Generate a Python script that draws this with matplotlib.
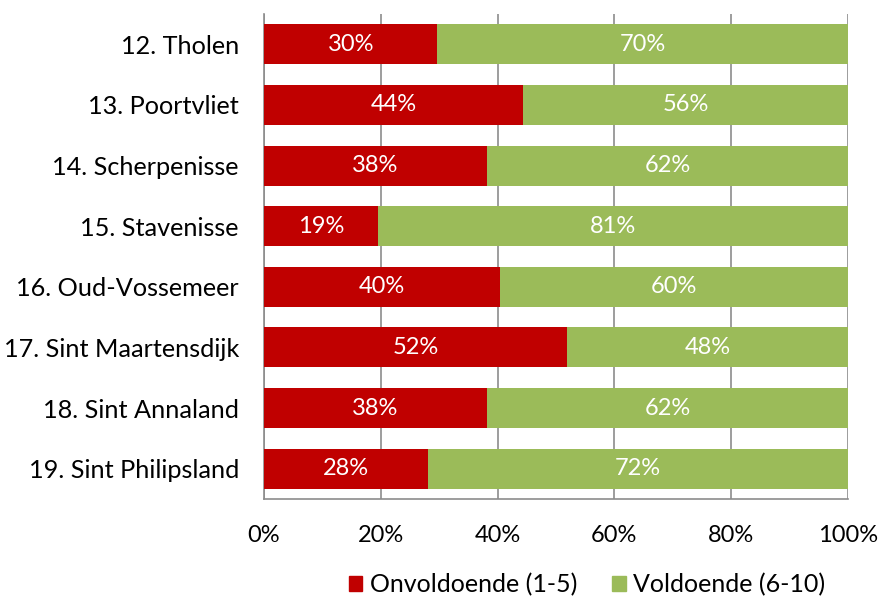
import matplotlib
matplotlib.use("Agg")
import matplotlib.pyplot as plt
from matplotlib.patches import Patch

categories = ["12. Tholen", "13. Poortvliet", "14. Scherpenisse", "15. Stavenisse",
              "16. Oud-Vossemeer", "17. Sint Maartensdijk", "18. Sint Annaland",
              "19. Sint Philipsland"]
onvoldoende = [29.7, 44.4, 38.2, 19.5, 40.4, 51.9, 38.2, 28.1]
voldoende = [70.3, 55.6, 61.8, 80.5, 59.6, 48.1, 61.8, 71.9]
onv_labels = ["30%", "44%", "38%", "19%", "40%", "52%", "38%", "28%"]
vol_labels = ["70%", "56%", "62%", "81%", "60%", "48%", "62%", "72%"]
xticks = [0, 20, 40, 60, 80, 100]
xtick_labels = ["0%", "20%", "40%", "60%", "80%", "100%"]
series_names = ["Onvoldoende (1-5)", "Voldoende (6-10)"]

RED = "#C00000"
GREEN = "#9BBB59"
GRID = "#8C8C8C"

plt.rcParams['font.family'] = ['Lato', 'DejaVu Sans']

fig = plt.figure(figsize=(8.8, 5.99), dpi=100)
ax = fig.add_axes([264/880, 1-499/599, (848-264)/880, (499-14)/599])

y = list(range(len(categories)))
h = 0.66
ax.barh(y, onvoldoende, height=h, color=RED, zorder=3)
ax.barh(y, voldoende, left=onvoldoende, height=h, color=GREEN, zorder=3)

fs_num = 17
fs_cat = 18.2
fs_leg = 18
for i in y:
    ax.text(onvoldoende[i]/2, i, onv_labels[i], color="white", ha="center", va="center",
            fontsize=fs_num, zorder=4)
    ax.text(onvoldoende[i] + voldoende[i]/2, i, vol_labels[i], color="white", ha="center",
            va="center", fontsize=fs_num, zorder=4)

ax.set_xlim(0, 100)
ax.set_ylim(len(categories)-0.5, -0.5)
ax.set_xticks(xticks)
ax.set_xticklabels(xtick_labels, fontsize=fs_num)
ax.set_yticks(y)
ax.set_yticklabels(categories, fontsize=fs_cat)
ax.tick_params(axis='y', length=0, pad=18)
ax.tick_params(axis='x', length=0, pad=19)
ax.xaxis.grid(True, color=GRID, linewidth=1.2, zorder=0)
for s in ["top", "right"]:
    ax.spines[s].set_visible(False)
for s in ["left", "bottom"]:
    ax.spines[s].set_color(GRID)
    ax.spines[s].set_linewidth(1.2)

handles = [Patch(color=RED, label=series_names[0]), Patch(color=GREEN, label=series_names[1])]
fig.legend(handles=handles, loc="center", bbox_to_anchor=(587/880, 1-585/599), ncol=2,
           frameon=False, fontsize=fs_leg, handlelength=0.55, handleheight=0.55,
           handletextpad=0.3, columnspacing=1.4, borderpad=0)

fig.savefig("out.png", dpi=100)
